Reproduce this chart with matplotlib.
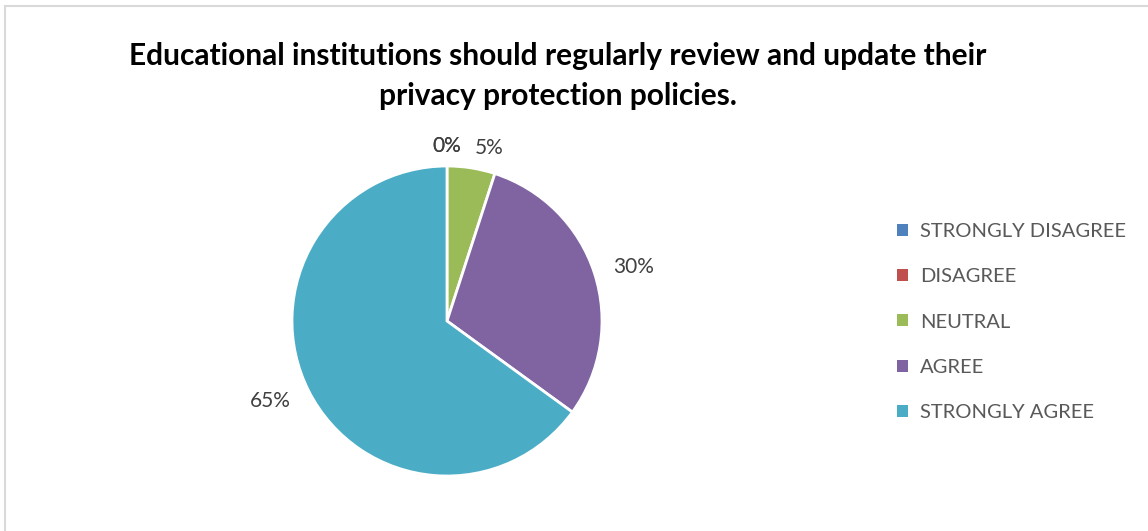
"""
Survey pie chart: privacy protection policy review
"""
import matplotlib.pyplot as plt
from matplotlib.patches import Rectangle, Patch

plt.rcParams['font.family'] = ['Lato', 'DejaVu Sans']

# survey responses (percent)
categories = ['STRONGLY DISAGREE', 'DISAGREE', 'NEUTRAL', 'AGREE', 'STRONGLY AGREE']
shares = [0, 0, 5, 30, 65]
colors = ['#4F81BD', '#C0504D', '#9BBB59', '#8064A2', '#4BACC6']
title = ('Educational institutions should regularly review and update their\n'
         'privacy protection policies.')

fig = plt.figure(figsize=(11.48, 5.31), dpi=100)

# light chart-area border (runs off the right and bottom edges)
fig.patches.append(Rectangle((5 / 1148, -0.05), 1.1, (531 - 6) / 531 + 0.05,
                             transform=fig.transFigure, fill=False,
                             edgecolor='#D9D9D9', linewidth=1.5))

fig.text(558 / 1148, 1 - 76 / 531, title, ha='center', va='center',
         fontsize=21.5, fontweight='bold', color='black', linespacing=1.5)

ax = fig.add_axes([(447 - 155) / 1148, (210 - 155) / 531, 310 / 1148, 310 / 531])
wedges, texts = ax.pie(
    shares, colors=colors, startangle=90, counterclock=False,
    labels=[f'{v}%' for v in shares], labeldistance=1.13,
    wedgeprops=dict(edgecolor='white', linewidth=2),
    textprops=dict(fontsize=15, color='#404040'))
for t in texts:
    x, _ = t.get_position()
    t.set_ha('center' if abs(x) < 0.05 else ('left' if x > 0 else 'right'))
    t.set_va('center')
ax.set_xlim(-1, 1)
ax.set_ylim(-1, 1)
ax.set_aspect('equal')

handles = [Patch(facecolor=c, edgecolor='none') for c in colors]
fig.legend(handles, categories, loc='center left',
           bbox_to_anchor=(879 / 1148, 1 - 322 / 531), frameon=False,
           fontsize=14.5, labelcolor='#595959', handlelength=0.55,
           handleheight=0.55, handletextpad=0.6, labelspacing=1.4)

fig.savefig('out.png', dpi=100)
